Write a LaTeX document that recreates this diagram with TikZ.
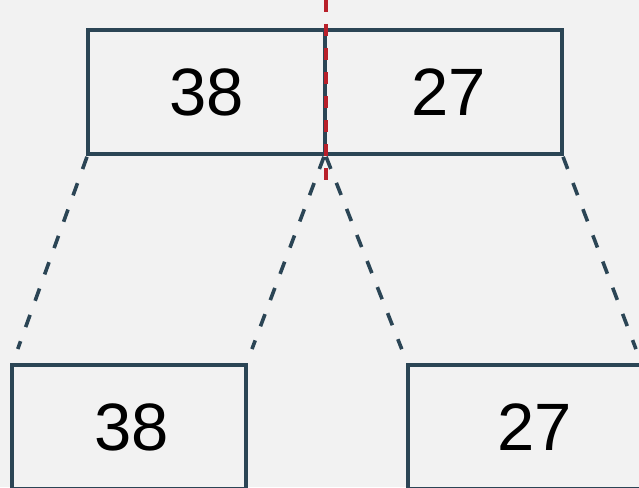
\documentclass[tikz,border=0pt]{standalone}
\usepackage{fontspec}
\setmainfont{Liberation Sans}
\usepackage{tikz}
\usetikzlibrary{calc}
\definecolor{bgcol}{HTML}{F2F2F2}
\definecolor{boxline}{HTML}{2B4555}
\definecolor{cutred}{HTML}{B8202A}

\begin{document}
\begin{tikzpicture}[x=1pt, y=-1pt,
  cell/.style={draw=boxline, line width=3.6pt, outer sep=0pt, inner sep=0pt,
    minimum width=237pt, minimum height=124pt, font=\fontsize{67}{67}\selectfont},
  link/.style={draw=boxline, line width=3.6pt, dash pattern=on 13pt off 15pt,
    shorten <=3pt, shorten >=17pt},
  cut/.style={draw=cutred, line width=3.6pt, dash pattern=on 12pt off 12pt}]
  \fill[bgcol] (0,0) rectangle (639,487);
  \useasboundingbox (0,0) rectangle (639,487);
  \clip (0,0) rectangle (639,487);

  \node[cell, anchor=north west] (top38) at (88,30) {38};
  \node[cell, anchor=west] (top27) at (top38.east) {\hspace{10pt}27};
  \node[cell, anchor=north west, minimum width=234pt] (bot38) at (12,365) {\hspace{6pt}38};
  \node[cell, anchor=north west, minimum width=234pt] (bot27) at (408,365) {\hspace{20pt}27};

  \draw[link] (top38.south west) -- (bot38.north west);
  \draw[link] (top38.south east) -- (bot38.north east);
  \draw[link] (top27.south west) -- (bot27.north west);
  \draw[link] (top27.south east) -- (bot27.north east);

  % split mark
  \coordinate (cuttop) at (326,0);
  \coordinate (cutbot) at (326,182);
  \draw[cut] (cuttop) -- (cutbot);
\end{tikzpicture}
\end{document}
